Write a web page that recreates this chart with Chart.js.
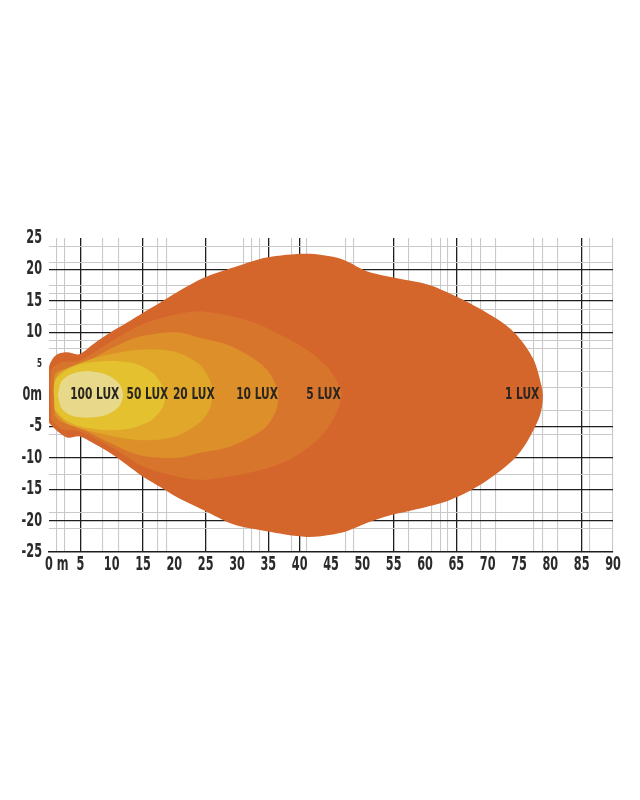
<!DOCTYPE html>
<html>
<head>
<meta charset="utf-8">
<script src="https://cdn.jsdelivr.net/npm/chart.js@4/dist/chart.umd.min.js"></script>
<style>
  html, body { margin: 0; padding: 0; background: #fff; }
  #wrap { width: 640px; height: 800px; position: relative; }
</style>
</head>
<body>
<div id="wrap"><canvas id="grafico-lux"></canvas></div>
<script>
// isolux zones, outlines in metres (x = distance, y = lateral)
const lux100 = [[1.4,0],[2,2.2],[3.7,3.4],[6.5,3.8],[9.3,3.2],[11.2,1.8],[11.8,0],[11.2,-1.8],[9.3,-3.1],[6.5,-3.6],[3.7,-3.3],[2,-2.1],[1.4,0]];
const lux50 = [[0.9,-2.4],[0.9,2.2],[2.5,3.8],[5,4.9],[9.9,5.4],[14,4.9],[16.8,3.3],[18.2,1.2],[18.5,-0.3],[18.1,-2],[16.5,-3.9],[13.5,-5.2],[9.9,-5.6],[5,-5],[2.5,-3.9],[0.9,-2.4]];
const lux20 = [[1.2,-3],[1.2,2.8],[3,4.3],[8.1,6.1],[14.5,7.2],[20.1,6.9],[24,4.9],[25.6,2.5],[26.1,0],[25.6,-2.3],[24,-4.4],[20.1,-6.6],[14.5,-7.2],[8.1,-6.1],[3,-4.6],[1.2,-3]];
const lux10 = [[0.9,-3.3],[0.9,3.2],[2,4],[4.9,4.8],[9.7,7.3],[14.5,9.3],[20.5,10],[24.1,9.1],[28.3,8.05],[32,6.2],[34.7,4.1],[36.3,1.4],[36.55,0],[36.3,-2.3],[34.7,-5],[32,-6.8],[28.3,-8.4],[24.1,-9.2],[20.5,-10],[14.5,-9.6],[9.7,-7.6],[4.9,-5.2],[2,-4.3],[0.9,-3.3]];
const lux5 = [[0.4,-3.9],[0.4,3.9],[2,5.2],[4.9,5.5],[9.9,8.5],[15,11.3],[20.5,12.9],[24.1,13.35],[29.4,12.5],[33.6,11.2],[37.3,9.4],[41.1,7.25],[44.3,4.6],[46.1,1.9],[46.7,0],[46.1,-2.3],[44.3,-5.5],[41.6,-8.2],[37.3,-10.8],[32,-12.4],[27.2,-13.2],[24.1,-13.5],[20.5,-13],[15,-11.4],[9.9,-8.3],[4.9,-5.8],[2,-5.4],[0.4,-3.9]];
const lux1 = [[0,-4.4],[0,4.4],[1.05,6.3],[2.8,6.8],[4.8,6.5],[7.2,8.2],[9.7,9.9],[12.4,11.5],[15,13.1],[17.7,14.7],[20.3,16.3],[24.8,18.7],[29.4,20.3],[34.7,21.9],[41.1,22.5],[45.3,22],[47.5,21.3],[50.7,19.7],[53.9,18.9],[59.2,17.9],[61.3,17.3],[66.6,14.9],[72,11.8],[74.6,9.6],[77.3,5.7],[78.6,1.4],[78.8,-0.5],[78.3,-3.4],[76.2,-7.6],[74.1,-10.3],[69.3,-14],[64,-16.7],[58.6,-18.2],[53.9,-19.3],[50.7,-20.4],[47.5,-21.7],[45.3,-22.2],[41.1,-22.6],[34.7,-21.7],[29.4,-20.6],[24.8,-18.4],[20.3,-16.2],[17.7,-14.6],[15,-13],[12.4,-11.1],[9.7,-9.2],[7.3,-7.8],[4.9,-6.6],[3,-6.8],[1.4,-5.8],[0,-4.4]];

const zoneNames = ['100 LUX', '50 LUX', '20 LUX', '10 LUX', '5 LUX', '1 LUX'];
const zoneLabelAt = [7.3, 15.7, 23.1, 33.2, 43.8, 75.5];

// ticks and grid
const xLabelTicks = [0,5,10,15,20,25,30,35,40,45,50,55,60,65,70,75,80,85,90];
const xMajorLines = [5,15,25,35,40,55,65,85];
const xMinorLines = [1.2,2.5,8.6,11.1,17.3,18.8,31.1,32.4,33.6,38.7,41.1,47.4,48.6,57.4,61.1,62.5,63.6,67.4,68.8,71.2,77.4,78.8,81.2,86.2,90];
const yLabelTicks = [-25,-20,-15,-10,-5,0,5,10,15,20,25];
const yMajorLines = [20,15,10,-5,-10,-15,-20];
const yMinorLines = [23.6,21.1,17.4,16.1,13.6,11.2,8.6,7.4,3.7,1.15,-2.5,-6.3,-12.6,-18.7,-21.3];

const FONTE = "'DejaVu Sans Condensed', 'DejaVu Sans', sans-serif";
const APERTO = 0.66; // estreita o texto (fonte condensada do original)
const CORES = ['#e8d98a', '#e4c22f', '#e0a72a', '#dd9029', '#d8752c', '#d4652b'];

function montarTicks(a, b, c) {
  const vals = Array.from(new Set([...a, ...b, ...c])).sort((p, q) => p - q);
  return vals.map(v => ({ value: v }));
}

function corGrade(maiores, menores) {
  return ctx => {
    const v = ctx.tick ? ctx.tick.value : null;
    if (maiores.includes(v)) return '#1e1e1e';
    if (menores.includes(v)) return '#c9c9c9';
    return 'rgba(0,0,0,0)';
  };
}

function larguraGrade(maiores) {
  return ctx => (ctx.tick && maiores.includes(ctx.tick.value)) ? 1.3 : 1.1;
}

function textoEstreito(ctx, texto, x, y, aperto) {
  ctx.save();
  ctx.translate(x, y);
  ctx.scale(aperto, 1);
  ctx.fillText(texto, 0, 0);
  ctx.restore();
}

// rótulos dos eixos desenhados à mão, para imitar a fonte condensada
const rotulosEixos = {
  id: 'rotulosEixos',
  afterDraw(chart) {
    const { ctx, scales } = chart;
    const sx = scales.x, sy = scales.y;
    ctx.save();
    ctx.fillStyle = '#2a2a2a';
    ctx.font = "bold 19px " + FONTE;
    ctx.textBaseline = 'top';
    xLabelTicks.forEach(v => {
      const px = sx.getPixelForValue(v);
      if (v === 0) {
        ctx.textAlign = 'left';
        textoEstreito(ctx, '0 m', px - 4, sx.top + 4, APERTO);
      } else {
        ctx.textAlign = 'center';
        textoEstreito(ctx, String(v), px, sx.top + 4, APERTO);
      }
    });
    ctx.textAlign = 'right';
    ctx.textBaseline = 'middle';
    yLabelTicks.forEach(v => {
      const py = sy.getPixelForValue(v);
      ctx.font = (v === 5 ? "bold 12px " : "bold 19px ") + FONTE;
      textoEstreito(ctx, v === 0 ? '0m' : String(v), sy.right - 7, py, APERTO);
    });
    ctx.restore();
  }
};

const rotulosLux = {
  id: 'rotulosLux',
  afterDatasetsDraw(chart) {
    const { ctx, scales } = chart;
    ctx.save();
    ctx.font = "bold 16px " + FONTE;
    ctx.fillStyle = '#2a2520';
    ctx.textAlign = 'center';
    ctx.textBaseline = 'middle';
    zoneNames.forEach((nome, i) => {
      textoEstreito(ctx, nome, scales.x.getPixelForValue(zoneLabelAt[i]), scales.y.getPixelForValue(0), 0.74);
    });
    ctx.restore();
  }
};

const zonas = [lux100, lux50, lux20, lux10, lux5, lux1];

new Chart(document.getElementById('grafico-lux').getContext('2d'), {
  type: 'line',
  data: {
    datasets: zonas.map((pts, i) => ({
      label: zoneNames[i],
      data: pts.map(p => ({ x: p[0], y: p[1] })),
      backgroundColor: CORES[i],
      borderWidth: 0,
      borderColor: CORES[i],
      pointRadius: 0,
      tension: 0.3,
      fill: 'shape'
    }))
  },
  options: {
    responsive: true,
    maintainAspectRatio: false,
    animation: false,
    events: [],
    layout: { padding: { left: 0, right: 27, top: 238, bottom: 220 } },
    plugins: { legend: { display: false }, tooltip: { enabled: false } },
    scales: {
      x: {
        type: 'linear',
        min: 0,
        max: 90,
        afterBuildTicks: s => { s.ticks = montarTicks(xLabelTicks, xMajorLines, xMinorLines); },
        afterFit: s => { s.height = 28; },
        border: { display: true, color: '#1e1e1e', width: 1.6 },
        grid: { color: corGrade(xMajorLines, xMinorLines), lineWidth: larguraGrade(xMajorLines), drawTicks: false },
        ticks: { display: false, autoSkip: false }
      },
      y: {
        type: 'linear',
        min: -25,
        max: 25,
        afterBuildTicks: s => { s.ticks = montarTicks(yLabelTicks, yMajorLines, yMinorLines); },
        afterFit: s => { s.width = 49; },
        border: { display: false },
        grid: { color: corGrade(yMajorLines, yMinorLines), lineWidth: larguraGrade(yMajorLines), drawTicks: false },
        ticks: { display: false, autoSkip: false }
      }
    }
  },
  plugins: [rotulosEixos, rotulosLux]
});
</script>
</body>
</html>
